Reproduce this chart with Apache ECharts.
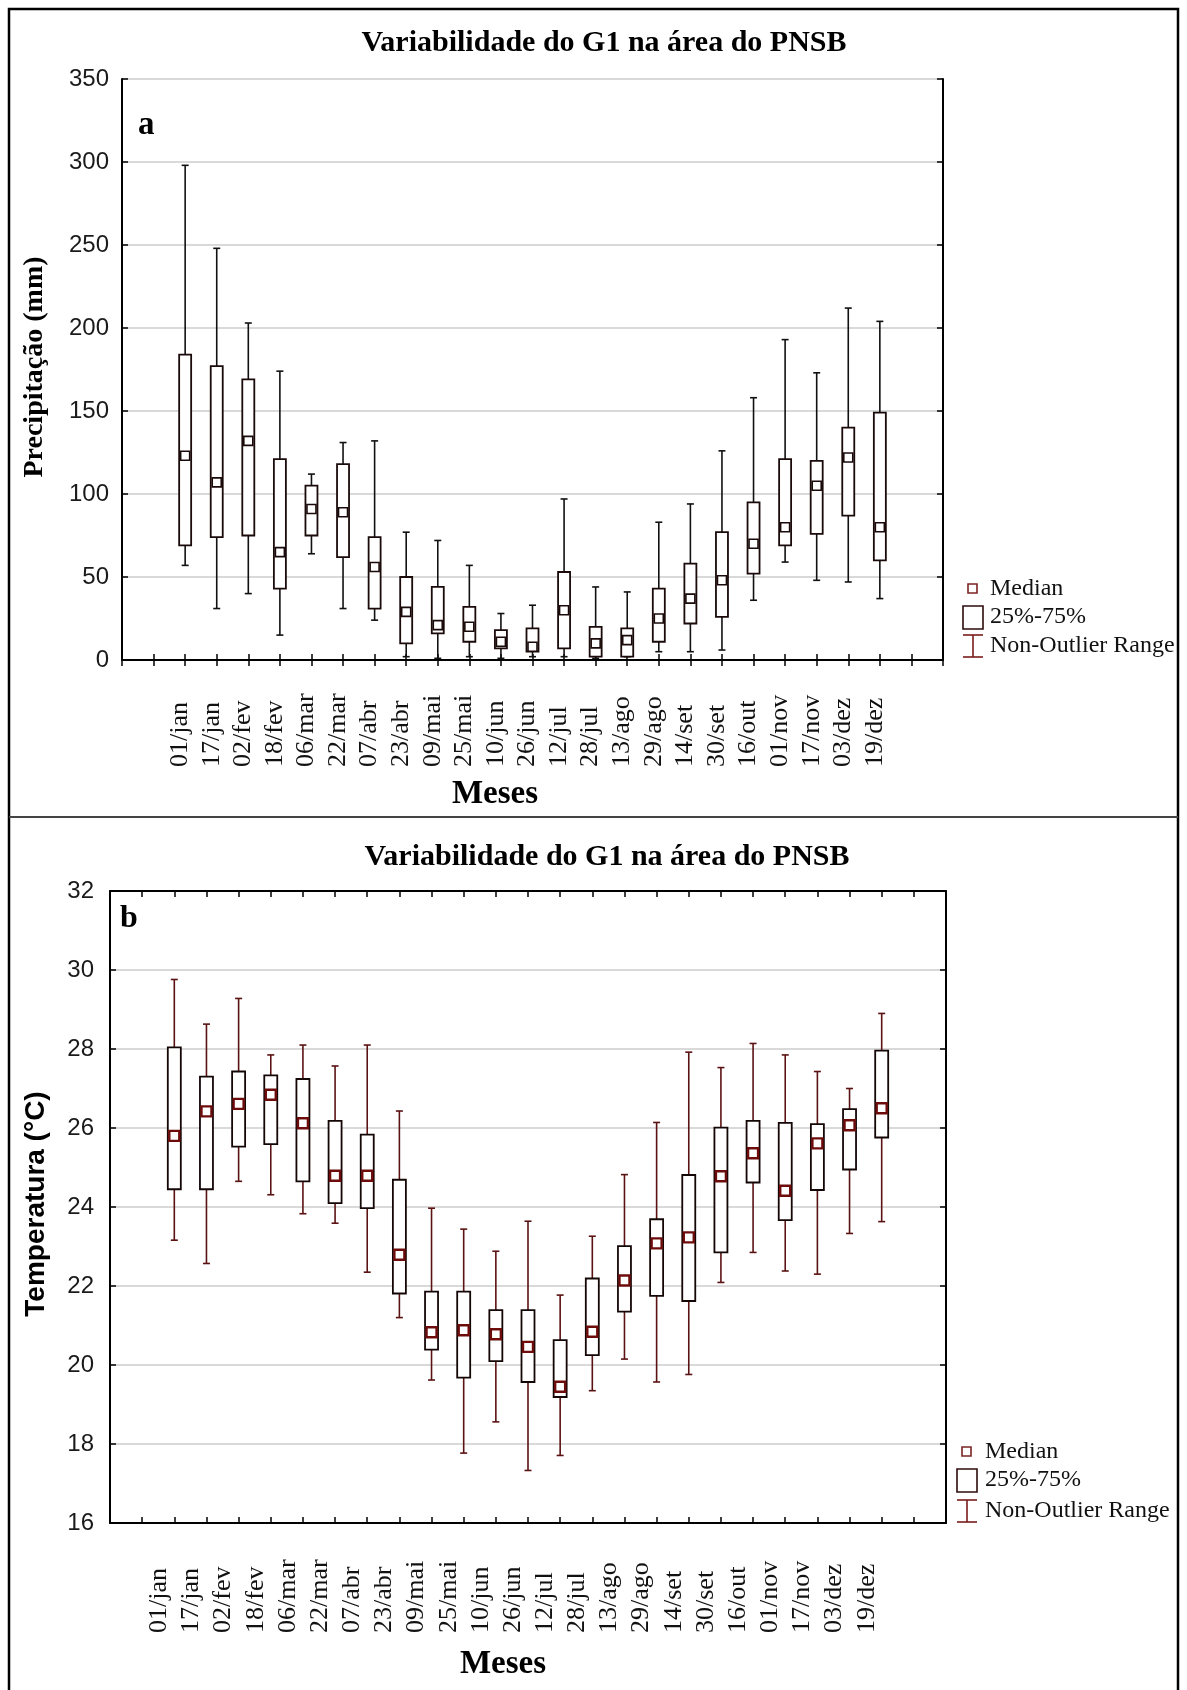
<!DOCTYPE html>
<html>
<head>
<meta charset="utf-8">
<script src="https://cdn.jsdelivr.net/npm/echarts@6/dist/echarts.min.js"></script>
<style>
html,body{margin:0;padding:0;background:#fff;}
#chart{width:1187px;height:1690px;}
</style>
</head>
<body>
<div id="chart"></div>
<script>
// ---------------- DATA ----------------
const categories = ['01/jan','17/jan','02/fev','18/fev','06/mar','22/mar','07/abr','23/abr','09/mai','25/mai','10/jun','26/jun','12/jul','28/jul','13/ago','29/ago','14/set','30/set','16/out','01/nov','17/nov','03/dez','19/dez'];

// Panel a – Precipitação (mm)
const precipMin    = [57, 31, 40, 15, 64, 31, 24, 2, 1, 2, 1, 2, 2, 1, 2, 5, 5, 6, 36, 59, 48, 47, 37];
const precipQ1     = [69, 74, 75, 43, 75, 62, 31, 10, 16, 11, 7, 5, 7, 2, 2, 11, 22, 26, 52, 69, 76, 87, 60];
const precipMedian = [123, 107, 132, 65, 91, 89, 56, 29, 21, 20, 11, 8, 30, 10, 12, 25, 37, 48, 70, 80, 105, 122, 80];
const precipQ3     = [184, 177, 169, 121, 105, 118, 74, 50, 44, 32, 18, 19, 53, 20, 19, 43, 58, 77, 95, 121, 120, 140, 149];
const precipMax    = [298, 248, 203, 174, 112, 131, 132, 77, 72, 57, 28, 33, 97, 44, 41, 83, 94, 126, 158, 193, 173, 212, 204];
const precipYTicks = [0, 50, 100, 150, 200, 250, 300, 350];

// Panel b – Temperatura (°C)
const tempMin    = [23.16, 22.57, 24.65, 24.31, 23.83, 23.59, 22.35, 21.20, 19.62, 17.77, 18.56, 17.33, 17.71, 19.35, 20.15, 19.57, 19.76, 22.09, 22.85, 22.38, 22.30, 23.33, 23.63];
const tempQ1     = [24.45, 24.45, 25.53, 25.59, 24.65, 24.10, 23.97, 21.81, 20.39, 19.68, 20.10, 19.57, 19.19, 20.25, 21.35, 21.75, 21.62, 22.85, 24.62, 23.67, 24.43, 24.95, 25.76];
const tempMedian = [25.80, 26.42, 26.61, 26.84, 26.12, 24.79, 24.79, 22.79, 20.83, 20.88, 20.78, 20.46, 19.45, 20.84, 22.14, 23.08, 23.23, 24.78, 25.36, 24.41, 25.61, 26.07, 26.50];
const tempQ3     = [28.04, 27.30, 27.43, 27.33, 27.24, 26.18, 25.83, 24.69, 21.86, 21.86, 21.39, 21.39, 20.63, 22.19, 23.01, 23.69, 24.81, 26.01, 26.18, 26.13, 26.10, 26.48, 27.96];
const tempMax    = [29.76, 28.63, 29.28, 27.85, 28.10, 27.57, 28.10, 26.43, 23.97, 23.44, 22.88, 23.64, 21.77, 23.26, 24.82, 26.14, 27.92, 27.53, 28.14, 27.85, 27.43, 27.00, 28.90];
const tempYTicks = [16, 18, 20, 22, 24, 26, 28, 30, 32];

const titleText = 'Variabilidade do G1 na área do PNSB';
const legendLabels = ['Median', '25%-75%', 'Non-Outlier Range'];

// -------------- BUILD ------------------
// two empty slots on each side of the categories (Statistica-like axis padding)
const PAD = 2;
const axisCategories = ['', ''].concat(categories, ['', '']);

function buildData(mn, q1, md, q3, mx) {
  return categories.map((c, i) => [i + PAD, mn[i], q1[i], md[i], q3[i], mx[i]]);
}

function makeRender(o) {
  return function (params, api) {
    const x = api.value(0);
    const pMin = api.coord([x, api.value(1)]);
    const pQ1 = api.coord([x, api.value(2)]);
    const pMed = api.coord([x, api.value(3)]);
    const pQ3 = api.coord([x, api.value(4)]);
    const pMax = api.coord([x, api.value(5)]);
    const cx = pMin[0];
    const hw = o.boxW / 2, cw = o.capW / 2, ms = o.medSize;
    const ws = { stroke: o.whisker, lineWidth: o.wLW };
    return {
      type: 'group',
      children: [
        { type: 'line', shape: { x1: cx, y1: pMax[1], x2: cx, y2: pMin[1] }, style: ws },
        { type: 'line', shape: { x1: cx - cw, y1: pMax[1], x2: cx + cw, y2: pMax[1] }, style: ws },
        { type: 'line', shape: { x1: cx - cw, y1: pMin[1], x2: cx + cw, y2: pMin[1] }, style: ws },
        { type: 'rect', shape: { x: cx - hw, y: pQ3[1], width: 2 * hw, height: pQ1[1] - pQ3[1] },
          style: { fill: '#fff', stroke: o.box, lineWidth: o.bLW } },
        { type: 'rect', shape: { x: cx - ms / 2, y: pMed[1] - ms / 2, width: ms, height: ms },
          style: { fill: '#fff', stroke: o.med, lineWidth: o.mLW } }
      ]
    };
  };
}

function xAxes(gridIndex, labelOpts) {
  const line = { show: true, lineStyle: { color: '#000', width: 2 } };
  const tick = { show: true, inside: true, length: 6, interval: 0, lineStyle: { color: '#000', width: 1.5 } };
  return [
    { gridIndex, type: 'category', data: axisCategories, boundaryGap: false, position: 'bottom',
      axisLine: line, axisTick: tick, splitLine: { show: false },
      axisLabel: Object.assign({ interval: 0, rotate: 90, align: 'left', verticalAlign: 'bottom',
        fontFamily: 'Liberation Serif', fontSize: 26, color: '#111' }, labelOpts) },
    { gridIndex, type: 'category', data: axisCategories, boundaryGap: false, position: 'top',
      axisLine: line, axisTick: tick, axisLabel: { show: false }, splitLine: { show: false } }
  ];
}

function yAxes(gridIndex, ticks, margin) {
  const line = { show: true, lineStyle: { color: '#000', width: 2 } };
  const tick = { show: true, inside: true, length: 6, lineStyle: { color: '#000', width: 1.5 } };
  const mn = ticks[0], mx = ticks[ticks.length - 1], iv = ticks[1] - ticks[0];
  return [
    { gridIndex, type: 'value', min: mn, max: mx, interval: iv, position: 'left',
      axisLine: line, axisTick: tick,
      axisLabel: { margin, fontFamily: 'Liberation Sans', fontSize: 24, color: '#1a1a1a' },
      splitLine: { show: true, lineStyle: { color: '#cdcdcd', width: 1.5 } } },
    { gridIndex, type: 'value', min: mn, max: mx, interval: iv, position: 'right',
      axisLine: line, axisTick: tick, axisLabel: { show: false }, splitLine: { show: false } }
  ];
}

function legendGraphics(x, yMed, yBox, yBar, textX, col) {
  const f = { fontFamily: 'Liberation Serif', fontSize: 24, fill: '#111', verticalAlign: 'middle', align: 'left' };
  return [
    { type: 'rect', shape: { x: x + 5, y: yMed - 5, width: 9, height: 9 }, style: { fill: '#fff', stroke: col.med, lineWidth: 1.6 } },
    { type: 'text', x: textX, y: yMed, style: Object.assign({ text: legendLabels[0] }, f) },
    { type: 'rect', shape: { x: x, y: yBox - 11, width: 20, height: 23 }, style: { fill: '#fff', stroke: col.box, lineWidth: 1.6 } },
    { type: 'text', x: textX, y: yBox, style: Object.assign({ text: legendLabels[1] }, f) },
    { type: 'line', shape: { x1: x + 10, y1: yBar - 11, x2: x + 10, y2: yBar + 11 }, style: { stroke: col.bar, lineWidth: 1.6 } },
    { type: 'line', shape: { x1: x, y1: yBar - 11, x2: x + 20, y2: yBar - 11 }, style: { stroke: col.bar, lineWidth: 1.6 } },
    { type: 'line', shape: { x1: x, y1: yBar + 11, x2: x + 20, y2: yBar + 11 }, style: { stroke: col.bar, lineWidth: 1.6 } },
    { type: 'text', x: textX, y: yBar, style: Object.assign({ text: legendLabels[2] }, f) }
  ];
}

const serifBold = { fontFamily: 'Liberation Serif', fontWeight: 'bold', fill: '#000', align: 'center', verticalAlign: 'middle' };

const option = {
  backgroundColor: '#fff',
  animation: false,
  grid: [
    { left: 122, top: 79, width: 821, height: 581, containLabel: false, outerBoundsMode: 'none' },
    { left: 110, top: 891, width: 836, height: 632, containLabel: false, outerBoundsMode: 'none' }
  ],
  xAxis: xAxes(0, { margin: 107, lineHeight: 10 }).concat(xAxes(1, { margin: 110, lineHeight: 30 })),
  yAxis: yAxes(0, precipYTicks, 13).concat(yAxes(1, tempYTicks, 16)),
  series: [
    { type: 'custom', name: 'Precipitação', xAxisIndex: 0, yAxisIndex: 0,
      encode: { x: 0, y: [1, 2, 3, 4, 5] },
      renderItem: makeRender({ boxW: 12, capW: 7, medSize: 9, whisker: '#111', box: '#1a0a0a', med: '#1a0a0a', wLW: 1.6, bLW: 1.8, mLW: 1.6 }),
      data: buildData(precipMin, precipQ1, precipMedian, precipQ3, precipMax) },
    { type: 'custom', name: 'Temperatura', xAxisIndex: 2, yAxisIndex: 2,
      encode: { x: 0, y: [1, 2, 3, 4, 5] },
      renderItem: makeRender({ boxW: 13, capW: 7, medSize: 10, whisker: '#5a1212', box: '#150606', med: '#6e0c0c', wLW: 1.6, bLW: 1.8, mLW: 2.4 }),
      data: buildData(tempMin, tempQ1, tempMedian, tempQ3, tempMax) }
  ],
  graphic: [
    // outer frame and panel separator
    { type: 'polyline', shape: { points: [[9, 1690], [9, 9], [1178, 9], [1178, 1690]] }, style: { stroke: '#000', lineWidth: 2.5, fill: null } },
    { type: 'line', shape: { x1: 9, y1: 817, x2: 1178, y2: 817 }, style: { stroke: '#444', lineWidth: 2 } },
    // titles
    { type: 'text', x: 604, y: 43, style: Object.assign({ text: titleText, fontSize: 30 }, serifBold) },
    { type: 'text', x: 607, y: 857, style: Object.assign({ text: titleText, fontSize: 30 }, serifBold) },
    // panel letters
    { type: 'text', x: 138, y: 125, style: Object.assign({}, serifBold, { text: 'a', fontSize: 33, align: 'left' }) },
    { type: 'text', x: 120, y: 919, style: Object.assign({}, serifBold, { text: 'b', fontSize: 32, align: 'left' }) },
    // x axis names
    { type: 'text', x: 495, y: 794, style: Object.assign({ text: 'Meses', fontSize: 33 }, serifBold) },
    { type: 'text', x: 503, y: 1664, style: Object.assign({ text: 'Meses', fontSize: 33 }, serifBold) },
    // y axis names
    { type: 'text', x: 35, y: 367, rotation: Math.PI / 2, style: Object.assign({ text: 'Precipitação (mm)', fontSize: 28 }, serifBold) },
    { type: 'text', x: 36, y: 1204, rotation: Math.PI / 2,
      style: { text: 'Temperatura (°C)', fontSize: 28, fontWeight: 'bold', fontFamily: 'Liberation Sans', fill: '#000', align: 'center', verticalAlign: 'middle' } }
  ].concat(
    legendGraphics(963, 589, 617, 646, 990, { med: '#7a2424', box: '#2e0c0c', bar: '#7a1c1c' }),
    legendGraphics(957, 1452, 1480, 1511, 985, { med: '#7a2424', box: '#2e0c0c', bar: '#7a1c1c' })
  )
};

const chart = echarts.init(document.getElementById('chart'), null, { renderer: 'canvas' });
chart.setOption(option);
</script>
</body>
</html>
